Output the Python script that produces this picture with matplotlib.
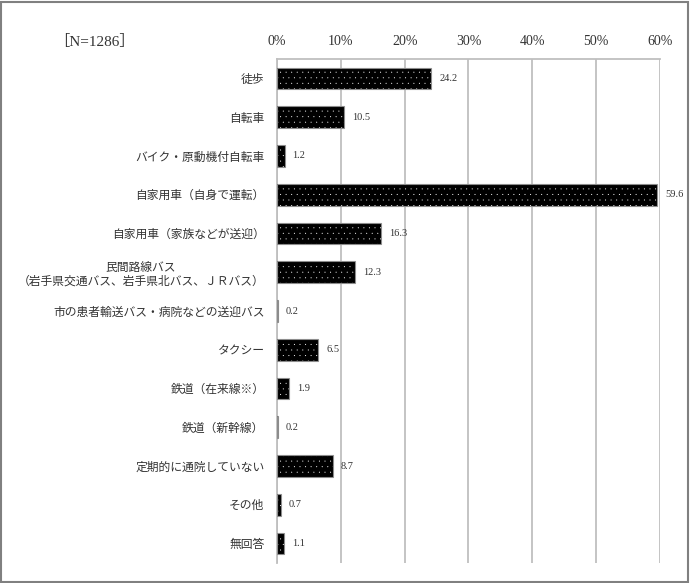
import matplotlib.pyplot as plt
from matplotlib.patches import Rectangle

plt.rcParams['font.family'] = ['Liberation Serif', 'Noto Sans CJK JP', 'DejaVu Sans']
plt.rcParams['hatch.linewidth'] = 0.0

categories = [
    "徒歩",
    "自転車",
    "バイク・原動機付自転車",
    "自家用車（自身で運転）",
    "自家用車（家族などが送迎）",
    "民間路線バス\n（岩手県交通バス、岩手県北バス、ＪＲバス）",
    "市の患者輸送バス・病院などの送迎バス",
    "タクシー",
    "鉄道（在来線※）",
    "鉄道（新幹線）",
    "定期的に通院していない",
    "その他",
    "無回答",
]
values = [24.2, 10.5, 1.2, 59.6, 16.3, 12.3, 0.2, 6.5, 1.9, 0.2, 8.7, 0.7, 1.1]
xticks = [0, 10, 20, 30, 40, 50, 60]
xtick_labels = ["0%", "10%", "20%", "30%", "40%", "50%", "60%"]
n_label = "［N=1286］"

fig = plt.figure(figsize=(6.9, 5.83), dpi=100)
ax = fig.add_axes([0.4014, 0.0343, 0.5551, 0.8645])

y = list(range(len(categories)))
# filled bars with white dot pattern
ax.barh(y, values, height=0.56, color="black", edgecolor="white",
        hatch="...", linewidth=0, zorder=3)
# thin gray outline on top
ax.barh(y, values, height=0.56, fill=False, edgecolor="#8c8c8c",
        linewidth=0.8, zorder=4)

for yi, v in zip(y, values):
    ax.text(v + 1.2, yi, f"{v:.1f}", va="center", ha="left", fontsize=7.5,
            color="#333333")

ax.set_xlim(0, 60)
ax.set_ylim(len(categories) - 0.5, -0.5)
ax.set_xticks(xticks)
ax.set_xticklabels(xtick_labels)
ax.xaxis.tick_top()
ax.tick_params(axis="x", length=0, pad=8, labelsize=10, colors="#333333")
ax.set_yticks(y)
ax.set_yticklabels(categories)
ax.tick_params(axis="y", length=0, pad=9, labelsize=8.5, colors="#333333")
for lab in ax.get_yticklabels():
    lab.set_multialignment("center")

ax.grid(axis="x", color="#bfbfbf", linewidth=1.3, zorder=0)
ax.set_axisbelow(True)
for side in ["bottom", "right"]:
    ax.spines[side].set_visible(False)
for side in ["top", "left"]:
    ax.spines[side].set_color("#bfbfbf")
    ax.spines[side].set_linewidth(1.3)

fig.text(0.078, 0.928, n_label, fontsize=11, color="#333333", ha="left", va="center")

fig.patches.append(Rectangle((0.002, 0.002), 0.995, 0.995, transform=fig.transFigure,
                             fill=False, edgecolor="#808080", linewidth=1.5))

fig.savefig("out.png", dpi=100)
